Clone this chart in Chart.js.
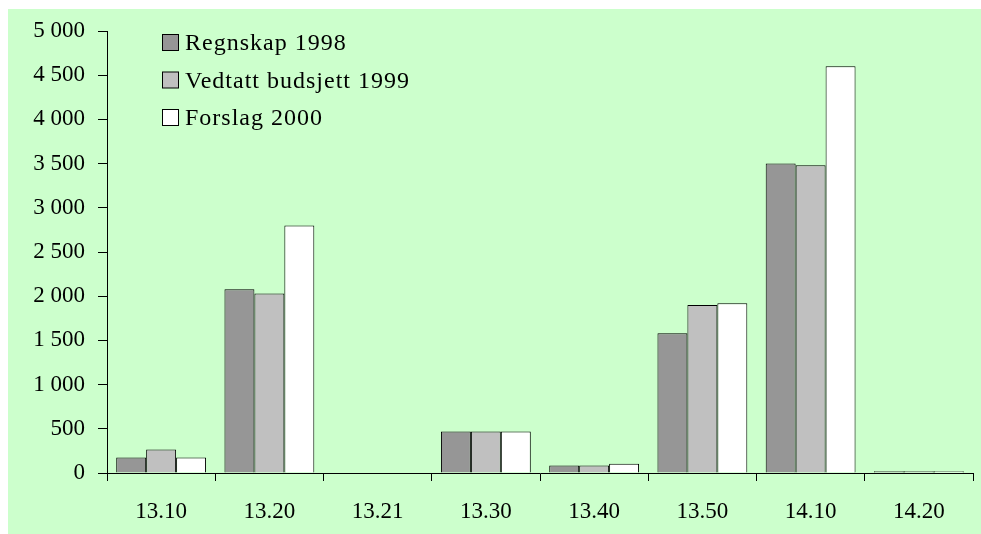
<!DOCTYPE html>
<html>
<head>
<meta charset="utf-8">
<script src="https://cdn.jsdelivr.net/npm/chart.js@4"></script>
<style>
  html, body { margin: 0; padding: 0; background: #fff; }
  #wrap { width: 981px; height: 534px; }
</style>
</head>
<body>
<div id="wrap"><canvas id="chart" width="981" height="534"></canvas></div>
<script>
const categories = ['13.10', '13.20', '13.21', '13.30', '13.40', '13.50', '14.10', '14.20'];
const regnskap1998 = [175, 2080, 0, 470, 85, 1580, 3500, 20];
const vedtatt1999 = [265, 2030, 0, 470, 85, 1900, 3480, 20];
const forslag2000 = [175, 2800, 0, 470, 105, 1920, 4600, 20];
const seriesNames = ['Regnskap 1998', 'Vedtatt budsjett 1999', 'Forslag 2000'];
const seriesColors = ['#969696', '#c0c0c0', '#ffffff'];

const axisFont = { family: 'Liberation Serif', size: 23 };

// green panel behind everything
const panelBg = {
    id: 'panelBg',
    beforeDraw(chart) {
        const ctx = chart.ctx;
        ctx.save();
        ctx.fillStyle = '#ccffcc';
        ctx.fillRect(8, 9, chart.width - 8, chart.height - 9);
        ctx.restore();
    }
};

// legend drawn inside the plot, stacked
const innerLegend = {
    id: 'innerLegend',
    afterDraw(chart) {
        const ctx = chart.ctx;
        ctx.save();
        ctx.font = '24px Liberation Serif';
        ctx.letterSpacing = '1px';
        ctx.textBaseline = 'alphabetic';
        chart.data.datasets.forEach((ds, i) => {
            const base = 50 + i * 37.5;
            ctx.fillStyle = ds.backgroundColor;
            ctx.fillRect(162.5, base - 15.5, 16, 16);
            ctx.strokeStyle = '#000';
            ctx.lineWidth = 1;
            ctx.strokeRect(162.5, base - 15.5, 16, 16);
            ctx.fillStyle = '#000';
            ctx.fillText(ds.label, 185, base);
        });
        ctx.restore();
    }
};

new Chart(document.getElementById('chart').getContext('2d'), {
    type: 'bar',
    data: {
        labels: categories,
        datasets: [regnskap1998, vedtatt1999, forslag2000].map((d, i) => ({
            label: seriesNames[i],
            data: d,
            backgroundColor: seriesColors[i],
            borderColor: '#000',
            borderWidth: 1,
            categoryPercentage: 0.83,
            barPercentage: 1
        }))
    },
    options: {
        responsive: false,
        animation: false,
        layout: { padding: { left: 0, top: 31, right: 8, bottom: 0 } },
        plugins: {
            legend: { display: false },
            tooltip: { enabled: false }
        },
        scales: {
            x: {
                grid: { drawOnChartArea: false, color: '#000', tickLength: 8, offset: true },
                border: { color: '#000', width: 1 },
                ticks: { color: '#000', font: axisFont, padding: 17, maxRotation: 0 },
                afterFit(scale) { scale.height = 61; }
            },
            y: {
                min: 0,
                max: 5000,
                grid: { drawOnChartArea: false, color: '#000', tickLength: 9 },
                border: { color: '#000', width: 1 },
                ticks: {
                    stepSize: 500,
                    color: '#000',
                    font: axisFont,
                    padding: 13,
                    callback: v => String(v).replace(/\B(?=(\d{3})+(?!\d))/g, ' ')
                },
                afterFit(scale) { scale.width = 107; }
            }
        }
    },
    plugins: [panelBg, innerLegend]
});
</script>
</body>
</html>
